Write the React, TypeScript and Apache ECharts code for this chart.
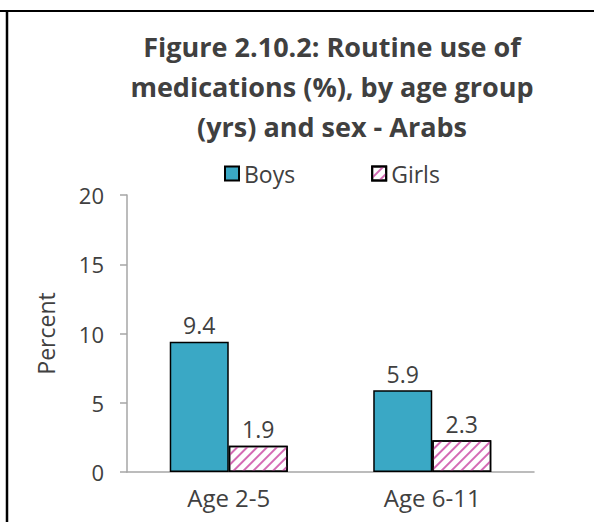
import React, { useEffect, useRef } from "react";
import * as echarts from "echarts";

const categories = ["Age 2-5", "Age 6-11"];
const boys = [9.4, 5.9];
const girls = [1.9, 2.3];
const titleLines = ["Figure 2.10.2: Routine use of", "medications (%), by age group", "(yrs) and sex - Arabs"];

const FONT = "'Open Sans', 'Noto Sans', sans-serif";
const TXT = "#404040";

export default function App() {
  const ref = useRef<HTMLDivElement>(null);
  useEffect(() => {
    if (!ref.current) return;
    const chart = echarts.init(ref.current, undefined, { renderer: "svg" });
    chart.setOption({
      animation: false,
      backgroundColor: "#ffffff",
      title: {
        text: titleLines.join("\n"),
        left: 332,
        textAlign: "center",
        top: 26,
        padding: 0,
        textStyle: { fontFamily: FONT, fontWeight: "bold", fontSize: 27, lineHeight: 40, color: TXT },
      },
      legend: {
        left: 224,
        top: 162,
        padding: 0,
        icon: "rect",
        itemWidth: 14,
        itemHeight: 14,
        itemGap: 76,
        textStyle: { fontFamily: FONT, fontSize: 23, color: TXT, lineHeight: 22 },
        data: ["Boys", "Girls"],
      },
      grid: { left: 127, right: 60, top: 195, bottom: 50, containLabel: false },
      xAxis: {
        type: "category",
        data: categories,
        axisLine: { lineStyle: { color: "#a6a6a6", width: 1.5 } },
        axisTick: { length: 7, lineStyle: { color: "#a6a6a6", width: 1.5 } },
        axisLabel: { fontFamily: FONT, fontSize: 24, color: TXT, margin: 13 },
      },
      yAxis: {
        type: "value",
        min: 0,
        max: 20,
        interval: 5,
        name: "Percent",
        nameLocation: "middle",
        nameRotate: 90,
        nameGap: 70,
        nameTextStyle: { fontFamily: FONT, fontSize: 23, color: TXT },
        axisLine: { show: true, lineStyle: { color: "#a6a6a6", width: 1.5 } },
        axisTick: { show: true, length: 7, lineStyle: { color: "#a6a6a6", width: 1.5 } },
        axisLabel: { fontFamily: FONT, fontSize: 22, color: TXT, margin: 23 },
        splitLine: { show: false },
      },
      series: [
        {
          name: "Boys",
          type: "bar",
          data: boys,
          barWidth: "29%",
          barGap: "0%",
          itemStyle: { color: "#3aa8c5", borderColor: "#000000", borderWidth: 1.5 },
          label: { show: true, position: "top", distance: 5, fontFamily: FONT, fontSize: 23, color: TXT },
        },
        {
          name: "Girls",
          type: "bar",
          data: girls,
          barWidth: "29%",
          barGap: "0%",
          itemStyle: {
            color: "#ffffff",
            borderColor: "#000000",
            borderWidth: 1.5,
            decal: {
              symbol: "rect",
              symbolSize: 1,
              color: "#d46ab4",
              dashArrayX: [1, 0],
              dashArrayY: [2, 5],
              rotation: -Math.PI / 4,
            },
          },
          label: { show: true, position: "top", distance: 5, fontFamily: FONT, fontSize: 23, color: TXT },
        },
      ],
      graphic: [
        { type: "line", shape: { x1: 0, y1: 11, x2: 594, y2: 11 }, style: { stroke: "#000000", lineWidth: 2 } },
        { type: "line", shape: { x1: 7, y1: 11, x2: 7, y2: 522 }, style: { stroke: "#000000", lineWidth: 2.5 } },
      ],
    });
    return () => chart.dispose();
  }, []);
  return <div ref={ref} style={{ position: "fixed", left: 0, top: 0, width: 594, height: 522 }} />;
}
